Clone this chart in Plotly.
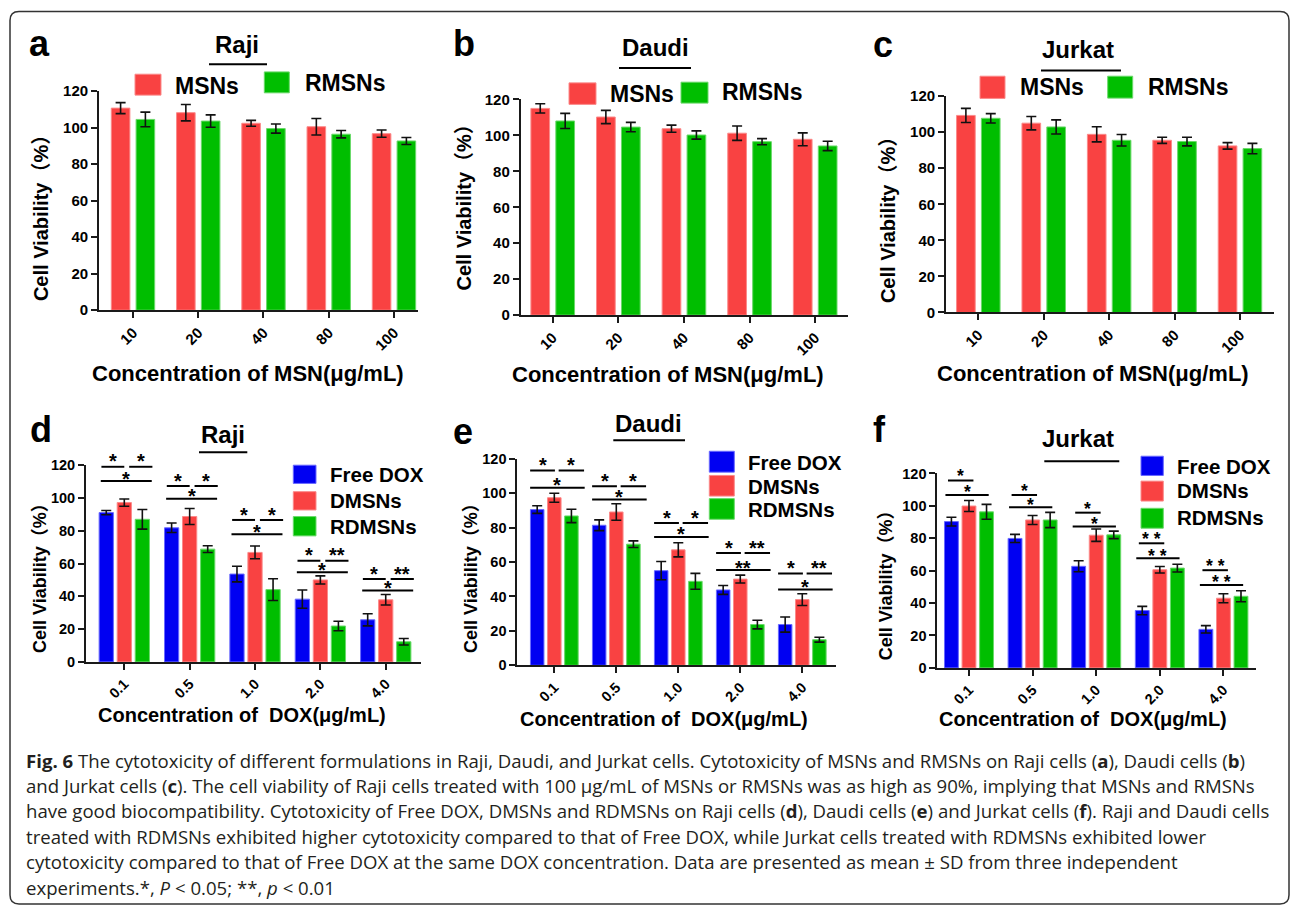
import plotly.graph_objects as go

W, H = 1292, 913

# ---------------- data ----------------
msn_conc = ["10", "20", "40", "80", "100"]
dox_conc = ["0.1", "0.5", "1.0", "2.0", "4.0"]

raji_msns = [110.7, 108.2, 102.4, 100.5, 96.7]
raji_msns_sd = [3.0, 4.5, 1.6, 4.5, 2.0]
raji_rmsns = [104.5, 103.6, 99.5, 96.4, 92.7]
raji_rmsns_sd = [4.0, 3.4, 2.5, 2.0, 1.9]

daudi_msns = [115.0, 110.2, 103.7, 101.2, 97.8]
daudi_msns_sd = [2.6, 3.7, 2.0, 4.0, 3.6]
daudi_rmsns = [108.0, 104.6, 100.2, 96.5, 94.1]
daudi_rmsns_sd = [4.2, 2.6, 2.3, 1.7, 2.6]

jurkat_msns = [109.3, 105.0, 98.8, 95.5, 92.4]
jurkat_msns_sd = [3.9, 3.7, 4.2, 1.7, 1.8]
jurkat_rmsns = [107.7, 102.9, 95.5, 94.8, 90.9]
jurkat_rmsns_sd = [2.6, 3.9, 3.2, 2.4, 2.9]

raji_free = [91.1, 81.8, 53.6, 38.3, 25.7]
raji_free_sd = [1.3, 2.9, 4.8, 5.6, 3.7]
raji_dmsns = [97.2, 88.7, 66.8, 50.0, 37.9]
raji_dmsns_sd = [2.2, 4.9, 3.9, 2.5, 3.2]
raji_rdmsns = [87.0, 68.8, 44.1, 21.9, 12.3]
raji_rdmsns_sd = [6.0, 2.1, 6.6, 2.9, 2.0]

daudi_free = [90.5, 81.4, 55.0, 43.8, 23.7]
daudi_free_sd = [2.2, 3.1, 5.3, 2.6, 4.4]
daudi_dmsns = [97.4, 89.1, 67.1, 50.1, 38.2]
daudi_dmsns_sd = [2.6, 4.8, 4.1, 2.3, 3.4]
daudi_rdmsns = [86.8, 70.4, 48.8, 23.7, 14.9]
daudi_rdmsns_sd = [3.9, 1.9, 4.6, 2.5, 1.4]

jurkat_free = [90.3, 79.9, 62.7, 35.4, 23.8]
jurkat_free_sd = [2.7, 2.5, 3.4, 2.6, 2.3]
jurkat_dmsns = [99.9, 91.3, 81.9, 60.6, 43.0]
jurkat_dmsns_sd = [3.4, 2.8, 3.8, 2.0, 2.8]
jurkat_rdmsns = [96.3, 91.3, 82.1, 61.6, 44.2]
jurkat_rdmsns_sd = [4.6, 4.7, 2.3, 2.4, 3.4]

# significance: bracket heights (short = pairwise neighbours, long = Free DOX vs RDMSNs)
raji_sig_short = [119.0, 107.3, 86.6, 61.7, 50.6]
raji_sig_long = [110.3, 99.6, 77.9, 54.7, 43.5]
raji_sig_labels = [("*", "*", "*"), ("*", "*", "*"), ("*", "*", "*"), ("*", "**", "*"), ("*", "**", "*")]

daudi_sig_short = [113.2, 104.1, 82.7, 65.2, 53.4]
daudi_sig_long = [103.2, 96.4, 74.6, 55.4, 44.0]
daudi_sig_labels = [("*", "*", "*"), ("*", "*", "*"), ("*", "*", "*"), ("*", "**", "**"), ("*", "**", "*")]

jurkat_sig_short = [115.7, 106.7, 95.8, 76.9, 60.3]
jurkat_sig_long = [106.7, 99.1, 87.2, 67.6, 51.2]
jurkat_sig_labels = [("*", "*"), ("*", "*"), ("*", "*"), ("* *", "* *"), ("* *", "* *")]

y_ticks = [0, 20, 40, 60, 80, 100, 120]

caption_lines = [
    "<b>Fig. 6</b> The cytotoxicity of different formulations in Raji, Daudi, and Jurkat cells. Cytotoxicity of MSNs and RMSNs on Raji cells (<b>a</b>), Daudi cells (<b>b</b>)",
    "and Jurkat cells (<b>c</b>). The cell viability of Raji cells treated with 100 μg/mL of MSNs or RMSNs was as high as 90%, implying that MSNs and RMSNs",
    "have good biocompatibility. Cytotoxicity of Free DOX, DMSNs and RDMSNs on Raji cells (<b>d</b>), Daudi cells (<b>e</b>) and Jurkat cells (<b>f</b>). Raji and Daudi cells",
    "treated with RDMSNs exhibited higher cytotoxicity compared to that of Free DOX, while Jurkat cells treated with RDMSNs exhibited lower",
    "cytotoxicity compared to that of Free DOX at the same DOX concentration. Data are presented as mean ± SD from three independent",
    "experiments.*, <i>P</i> &lt; 0.05; **, <i>p</i> &lt; 0.01",
]

# ---------------- styles ----------------
RED, RED_E = "#F94242", "#FB8A8A"
GREEN, GREEN_E = "#00BE00", "#6AD96A"
BLUE, BLUE_E = "#0000F2", "#6A6AFF"
FONT = "Arial, Liberation Sans, Noto Sans CJK SC, sans-serif"
CAP_FONT = "Open Sans, sans-serif"
AX = "#1a1a1a"

# vertical placement correction measured from the rendered page
Y_OFF, Y_SCALE = 7.5, 0.9857


def px(x):
    return x / W


def py(y):
    return 1 - ((y - Y_OFF) / Y_SCALE) / H


panels = [
    dict(cats=msn_conc, xpx=(99, 418), ypx=(90, 310), xr=(-0.521, 4.368),
         series=[(raji_msns, raji_msns_sd, RED, RED_E), (raji_rmsns, raji_rmsns_sd, GREEN, GREEN_E)],
         letter="a", lxy=(39, 42), title="Raji", txy=(237, 43.5), ul=(209, 267, 63),
         ytitle_xy=(41, 212.5), xtitle_xy=(247.5, 373.3), top=True),
    dict(cats=msn_conc, xpx=(520.7, 848), ypx=(98.3, 315), xr=(-0.488, 4.50),
         series=[(daudi_msns, daudi_msns_sd, RED, RED_E), (daudi_rmsns, daudi_rmsns_sd, GREEN, GREEN_E)],
         letter="b", lxy=(463.7, 41.7), title="Daudi", txy=(655, 46), ul=(619, 691, 66.7),
         ytitle_xy=(464.2, 201.7), xtitle_xy=(668.3, 375), top=True),
    dict(cats=msn_conc, xpx=(946, 1274), ypx=(95, 312.3), xr=(-0.494, 4.52),
         series=[(jurkat_msns, jurkat_msns_sd, RED, RED_E), (jurkat_rmsns, jurkat_rmsns_sd, GREEN, GREEN_E)],
         letter="c", lxy=(883.3, 42.7), title="Jurkat", txy=(1078, 48.4), ul=(1041, 1121, 69.3),
         ytitle_xy=(887.5, 215), xtitle_xy=(1092.5, 373.3), top=True),
    dict(cats=dox_conc, xpx=(86, 420.7), ypx=(465.7, 663.3), xr=(-0.586, 4.535),
         series=[(raji_free, raji_free_sd, BLUE, BLUE_E), (raji_dmsns, raji_dmsns_sd, RED, RED_E),
                 (raji_rdmsns, raji_rdmsns_sd, GREEN, GREEN_E)],
         letter="d", lxy=(40.8, 430), title="Raji", txy=(222.7, 435), ul=(199, 247.3, 452.7),
         ytitle_xy=(40, 575), xtitle_xy=(241.7, 716.7), top=False,
         sig=(raji_sig_short, raji_sig_long, raji_sig_labels),
         sig_off=((-0.35, 0.0), (0.075, 0.43), (-0.36, 0.42)), star_size=20),
    dict(cats=dox_conc, xpx=(517.3, 836), ypx=(459.3, 666.7), xr=(-0.597, 4.544),
         series=[(daudi_free, daudi_free_sd, BLUE, BLUE_E), (daudi_dmsns, daudi_dmsns_sd, RED, RED_E),
                 (daudi_rdmsns, daudi_rdmsns_sd, GREEN, GREEN_E)],
         letter="e", lxy=(463, 431.4), title="Daudi", txy=(648.3, 423.4), ul=(613.3, 685, 440.7),
         ytitle_xy=(471.7, 574.2), xtitle_xy=(664.2, 721), top=False,
         sig=(daudi_sig_short, daudi_sig_long, daudi_sig_labels),
         sig_off=((-0.39, 0.01), (0.07, 0.48), (-0.39, 0.49)), star_size=20),
    dict(cats=dox_conc, xpx=(937.3, 1256), ypx=(474, 669.3), xr=(-0.498, 4.512),
         series=[(jurkat_free, jurkat_free_sd, BLUE, BLUE_E), (jurkat_dmsns, jurkat_dmsns_sd, RED, RED_E),
                 (jurkat_rdmsns, jurkat_rdmsns_sd, GREEN, GREEN_E)],
         letter="f", lxy=(879, 430.3), title="Jurkat", txy=(1078.3, 439), ul=(1044.3, 1119.3, 461.7),
         ytitle_xy=(885.5, 581.7), xtitle_xy=(1083.3, 721), top=False,
         sig=(jurkat_sig_short, jurkat_sig_long, jurkat_sig_labels),
         sig_off=((-0.33, 0.07), None, (-0.37, 0.31)), star_size=17.5),
]

legends = [
    [(135, 161, 73, 94, RED, RED_E, "MSNs", 173.3, 84.5, 23),
     (264.3, 289.3, 70.7, 91.7, GREEN, GREEN_E, "RMSNs", 302.7, 82.3, 23)],
    [(569, 596, 81.7, 103.3, RED, RED_E, "MSNs", 608.3, 92.7, 23),
     (681, 708, 81, 102, GREEN, GREEN_E, "RMSNs", 720, 91.3, 23)],
    [(980, 1005, 75, 97.3, RED, RED_E, "MSNs", 1018.3, 85.8, 23),
     (1107.7, 1132.7, 75, 97, GREEN, GREEN_E, "RMSNs", 1146, 86.2, 23)],
    [(293.3, 316, 465.7, 484, BLUE, BLUE_E, "Free DOX", 327.7, 474.7, 20.5),
     (293.3, 316, 492.3, 510.7, RED, RED_E, "DMSNs", 327.7, 501.3, 20.5),
     (293.3, 316, 517.3, 536.7, GREEN, GREEN_E, "RDMSNs", 327.7, 527.2, 20.5)],
    [(709.3, 734.3, 451.7, 472.7, BLUE, BLUE_E, "Free DOX", 746, 462.5, 20.5),
     (709.3, 734.3, 476, 496.7, RED, RED_E, "DMSNs", 746, 487.2, 20.5),
     (709.3, 734.3, 499.3, 520, GREEN, GREEN_E, "RDMSNs", 746, 510, 20.5)],
    [(1141, 1163.3, 456.7, 476, BLUE, BLUE_E, "Free DOX", 1175, 466.7, 20.5),
     (1141, 1163.3, 481.7, 501.7, RED, RED_E, "DMSNs", 1175, 491.2, 20.5),
     (1141, 1163.3, 509, 529, GREEN, GREEN_E, "RDMSNs", 1175, 518, 20.5)],
]

fig = go.Figure()
shapes = []
annotations = []
layout_axes = {}

for i, p in enumerate(panels):
    n = i + 1
    xa = "x" if n == 1 else f"x{n}"
    ya = "y" if n == 1 else f"y{n}"
    xkey = "xaxis" if n == 1 else f"xaxis{n}"
    ykey = "yaxis" if n == 1 else f"yaxis{n}"
    nser = len(p["series"])
    if nser == 2:
        w, g = 0.285, 0.095
        offsets = [-(w + g / 2), g / 2]
    else:
        w, g = 0.218, 0.058
        offsets = [-1.5 * w - g, -w / 2, w / 2 + g]
    for (vals, sd, col, edge), off in zip(p["series"], offsets):
        fig.add_trace(go.Bar(
            x=p["cats"], y=vals, width=w, offset=off, xaxis=xa, yaxis=ya,
            marker=dict(color=col, line=dict(color=edge, width=1)),
            error_y=dict(type="data", array=sd, visible=True, color="#111111",
                         thickness=1.6, width=5),
            showlegend=False, hoverinfo="skip"))
    tick_size = 15 if p["top"] else 14.5
    layout_axes[xkey] = dict(
        domain=[px(p["xpx"][0]), px(p["xpx"][1])], anchor=ya, type="category",
        range=list(p["xr"]), showline=True, linecolor=AX, linewidth=1.8,
        ticks="outside", ticklen=6, tickwidth=1.8, tickcolor=AX, tickangle=-45,
        tickfont=dict(family=FONT, size=tick_size, color="black", weight="bold"),
        showgrid=False, zeroline=False, fixedrange=True)
    layout_axes[ykey] = dict(
        domain=[py(p["ypx"][1]), py(p["ypx"][0])], anchor=xa, range=[0, 120],
        tickvals=y_ticks, showline=True, linecolor=AX, linewidth=1.8,
        ticks="outside", ticklen=6, tickwidth=1.8, tickcolor=AX,
        tickfont=dict(family=FONT, size=tick_size, color="black", weight="bold"),
        showgrid=False, zeroline=False, fixedrange=True)

    annotations.append(dict(text=p["letter"], x=px(p["lxy"][0]), y=py(p["lxy"][1]), xref="paper", yref="paper",
                            xanchor="center", yanchor="middle", showarrow=False,
                            font=dict(family=FONT, size=36, color="black", weight="bold")))
    annotations.append(dict(text=p["title"], x=px(p["txy"][0]), y=py(p["txy"][1]), xref="paper", yref="paper",
                            xanchor="center", yanchor="middle", showarrow=False,
                            font=dict(family=FONT, size=24, color="black", weight="bold")))
    shapes.append(dict(type="line", xref="paper", yref="paper", x0=px(p["ul"][0]), x1=px(p["ul"][1]),
                       y0=py(p["ul"][2]), y1=py(p["ul"][2]), line=dict(color="black", width=2)))
    annotations.append(dict(text="Cell Viability（%）", x=px(p["ytitle_xy"][0]), y=py(p["ytitle_xy"][1]),
                            xref="paper", yref="paper", xanchor="center", yanchor="middle", textangle=-90,
                            showarrow=False,
                            font=dict(family=FONT, size=20 if p["top"] else 18, color="black", weight="bold")))
    xt = "Concentration of MSN(μg/mL)" if p["top"] else "Concentration of \u00a0DOX(μg/mL)"
    annotations.append(dict(text=xt, x=px(p["xtitle_xy"][0]), y=py(p["xtitle_xy"][1]),
                            xref="paper", yref="paper", xanchor="center", yanchor="middle", showarrow=False,
                            font=dict(family=FONT, size=22 if p["top"] else 20, color="black", weight="bold")))

    if "sig" in p:
        short, long_, labels = p["sig"]
        o_left, o_right, o_long = p["sig_off"]
        ss = p["star_size"]
        glyph_up = 0.228 * ss
        for gi in range(len(p["cats"])):
            if o_right is not None:
                items = [(o_left, short[gi], labels[gi][0], 10),
                         (o_right, short[gi], labels[gi][1], 10),
                         (o_long, long_[gi], labels[gi][2], 7)]
            else:
                items = [(o_left, short[gi], labels[gi][0], 8),
                         (o_long, long_[gi], labels[gi][1], 6.7)]
            for (o0, o1), lev, lab, up in items:
                shapes.append(dict(type="line", xref=xa, yref=ya, x0=gi + o0, x1=gi + o1, y0=lev, y1=lev,
                                   line=dict(color="black", width=2)))
                annotations.append(dict(text=lab, x=gi + (o0 + o1) / 2, y=lev, xref=xa, yref=ya,
                                        xanchor="center", yanchor="middle", yshift=up - glyph_up,
                                        showarrow=False,
                                        font=dict(family=FONT, size=ss, color="black", weight="bold")))

for leg in legends:
    for (x0, x1, y0, y1, col, edge, txt, tx, ty, fs) in leg:
        shapes.append(dict(type="rect", xref="paper", yref="paper", x0=px(x0), x1=px(x1), y0=py(y1), y1=py(y0),
                           fillcolor=col, line=dict(color=edge, width=1)))
        annotations.append(dict(text=txt, x=px(tx), y=py(ty), xref="paper", yref="paper",
                                xanchor="left", yanchor="middle", showarrow=False,
                                font=dict(family=FONT, size=fs, color="black", weight="bold")))

cap_y = [762, 787.5, 813, 838.5, 864, 889.5]
for line, yy in zip(caption_lines, cap_y):
    annotations.append(dict(text=line, x=px(24), y=py(yy), xref="paper", yref="paper",
                            xanchor="left", yanchor="middle", showarrow=False,
                            font=dict(family=CAP_FONT, size=18.6, color="#231f20")))

# rounded outer frame
L, T, R, B, r = 10, 10, 1289, 906.5, 9
path = (f"M {px(L + r)},{py(T)} L {px(R - r)},{py(T)} Q {px(R)},{py(T)} {px(R)},{py(T + r)} "
        f"L {px(R)},{py(B - r)} Q {px(R)},{py(B)} {px(R - r)},{py(B)} "
        f"L {px(L + r)},{py(B)} Q {px(L)},{py(B)} {px(L)},{py(B - r)} "
        f"L {px(L)},{py(T + r)} Q {px(L)},{py(T)} {px(L + r)},{py(T)} Z")
shapes.append(dict(type="path", xref="paper", yref="paper", path=path, line=dict(color="#333333", width=1.5)))

fig.update_layout(
    width=W, height=H, autosize=False, margin=dict(l=0, r=0, t=0, b=0, pad=0),
    paper_bgcolor="white", plot_bgcolor="white", barmode="overlay",
    shapes=shapes, annotations=annotations, showlegend=False, **layout_axes)

fig.write_html("out.html", config={"displayModeBar": False},
               post_script="document.body.style.margin='0px';")
